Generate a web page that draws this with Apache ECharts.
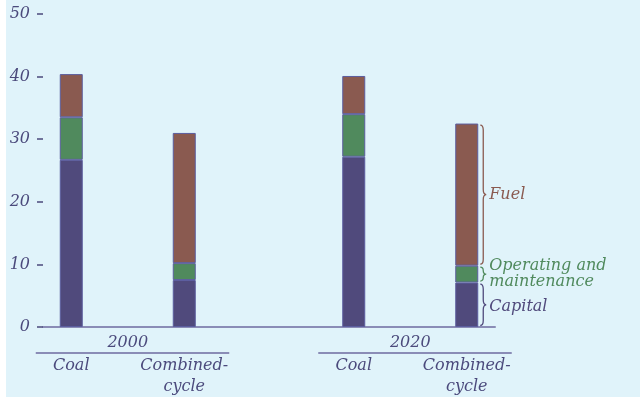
<!DOCTYPE html>
<html>
<head>
<meta charset="utf-8">
<script src="https://cdn.jsdelivr.net/npm/echarts@6/dist/echarts.min.js"></script>
<style>
  html, body { margin: 0; padding: 0; background: #ffffff; }
  #chart { position: absolute; left: 6px; top: 0; width: 634px; height: 397px; background: #e0f3fa; }
</style>
</head>
<body>
<div id="chart"></div>
<script>
// Levelized generating cost components, by year and plant technology
const years = ['2000', '2020'];
const technologies = ['Coal', 'Combined-\ncycle'];
const capital = [26.7, 7.5, 27.2, 7.1];
const operatingMaintenance = [6.8, 2.7, 6.8, 2.7];
const fuel = [6.9, 20.8, 6.1, 22.7];
const yTicks = [0, 10, 20, 30, 40, 50];
const componentNames = ['Capital', 'Operating and\nmaintenance', 'Fuel'];

// Layout: bars sit in slots of an 8-slot category band, blank slots give the spacing
const slotCount = 8;
const barSlots = [0, 2, 5, 7];

const INK = '#4b4a7c';
const AXIS = '#8a8cb6';
const COLORS = ['#504a7c', '#508a5d', '#8a5a50'];
const FONT = '"DejaVu Serif", "Liberation Serif", serif';

const categories = new Array(slotCount).fill('');
barSlots.forEach((s, i) => { categories[s] = technologies[i % technologies.length]; });

function slotted(values) {
  const arr = new Array(slotCount).fill('-');
  barSlots.forEach((s, i) => { arr[s] = values[i]; });
  return arr;
}

const components = [capital, operatingMaintenance, fuel];

function barSeries(name, values, color) {
  return {
    name: name,
    type: 'bar',
    stack: 'cost',
    barWidth: 23,
    data: slotted(values),
    itemStyle: { color: color, borderColor: '#5b5d9f', borderWidth: 1 },
    silent: true
  };
}

// Braces beside the last bar naming each cost component
const lastBar = barSlots.length - 1;
const braceData = [];
let running = 0;
components.forEach((vals, k) => {
  const low = running;
  running += vals[lastBar];
  braceData.push([barSlots[lastBar], low, running, k]);
});

function bracePath(x, yTop, yBot, w) {
  const ym = (yTop + yBot) / 2, x1 = x + w / 2, x2 = x + w;
  const r = Math.min(5, (yBot - yTop) / 4);
  return 'M' + x + ' ' + yTop +
    ' Q' + x1 + ' ' + yTop + ' ' + x1 + ' ' + (yTop + r) +
    ' L' + x1 + ' ' + (ym - r) +
    ' Q' + x1 + ' ' + ym + ' ' + x2 + ' ' + ym +
    ' Q' + x1 + ' ' + ym + ' ' + x1 + ' ' + (ym + r) +
    ' L' + x1 + ' ' + (yBot - r) +
    ' Q' + x1 + ' ' + yBot + ' ' + x + ' ' + yBot;
}

function renderBrace(params, api) {
  const slot = api.value(0), low = api.value(1), high = api.value(2), k = api.value(3);
  const pTop = api.coord([slot, high]);
  const pBot = api.coord([slot, low]);
  const x = pTop[0] + 11.5 + 2;
  const yTop = pTop[1] + 1.5, yBot = pBot[1] - 1.5;
  return {
    type: 'group',
    children: [
      {
        type: 'path',
        shape: { pathData: bracePath(x, yTop, yBot, 6) },
        style: { stroke: COLORS[k], fill: null, lineWidth: 1.3 }
      },
      {
        type: 'text',
        style: {
          text: componentNames[k],
          x: x + 9,
          y: (yTop + yBot) / 2 + (k === 0 ? 2 : 0),
          fill: COLORS[k],
          fontSize: 16,
          fontStyle: 'italic',
          fontFamily: FONT,
          lineHeight: 16,
          align: 'left',
          verticalAlign: 'middle'
        }
      }
    ]
  };
}

// Year labels with rules under each pair of bars
const groupData = years.map((y, g) => [barSlots[2 * g], barSlots[2 * g + 1], g]);

function renderGroup(params, api) {
  const first = api.coord([api.value(0), 0]);
  const last = api.coord([api.value(1), 0]);
  const g = api.value(2);
  const axisY = first[1];
  return {
    type: 'group',
    children: [
      {
        type: 'text',
        style: {
          text: years[g],
          x: (first[0] + last[0]) / 2,
          y: axisY + 16,
          fill: INK,
          fontSize: 16,
          fontStyle: 'italic',
          fontFamily: FONT,
          align: 'center',
          verticalAlign: 'middle'
        }
      },
      {
        type: 'line',
        shape: { x1: first[0] - 35.5, y1: axisY + 26, x2: last[0] + 45, y2: axisY + 26 },
        style: { stroke: AXIS, lineWidth: 2 }
      }
    ]
  };
}

const chart = echarts.init(document.getElementById('chart'), null, { renderer: 'canvas' });
chart.setOption({
  animation: false,
  backgroundColor: 'transparent',
  grid: { left: 37, right: 145, top: 14, bottom: 70 },
  xAxis: {
    type: 'category',
    data: categories,
    axisLine: { lineStyle: { color: AXIS, width: 2 } },
    axisTick: { show: false },
    axisLabel: {
      interval: 0,
      margin: 28,
      color: INK,
      fontSize: 16,
      lineHeight: 21,
      fontStyle: 'italic',
      fontFamily: FONT
    }
  },
  yAxis: {
    type: 'value',
    min: yTicks[0],
    max: yTicks[yTicks.length - 1],
    interval: yTicks[1] - yTicks[0],
    splitLine: { show: false },
    axisLine: { show: false },
    axisTick: { show: true, length: 6, lineStyle: { color: INK, width: 1.5 } },
    axisLabel: {
      margin: 13,
      color: INK,
      fontSize: 16,
      fontStyle: 'italic',
      fontFamily: FONT
    }
  },
  series: [
    barSeries(componentNames[0], capital, COLORS[0]),
    barSeries(componentNames[1], operatingMaintenance, COLORS[1]),
    barSeries(componentNames[2], fuel, COLORS[2]),
    { type: 'custom', renderItem: renderBrace, data: braceData, clip: false, silent: true, z: 5 },
    { type: 'custom', renderItem: renderGroup, data: groupData, clip: false, silent: true, z: 5 }
  ]
});
</script>
</body>
</html>
